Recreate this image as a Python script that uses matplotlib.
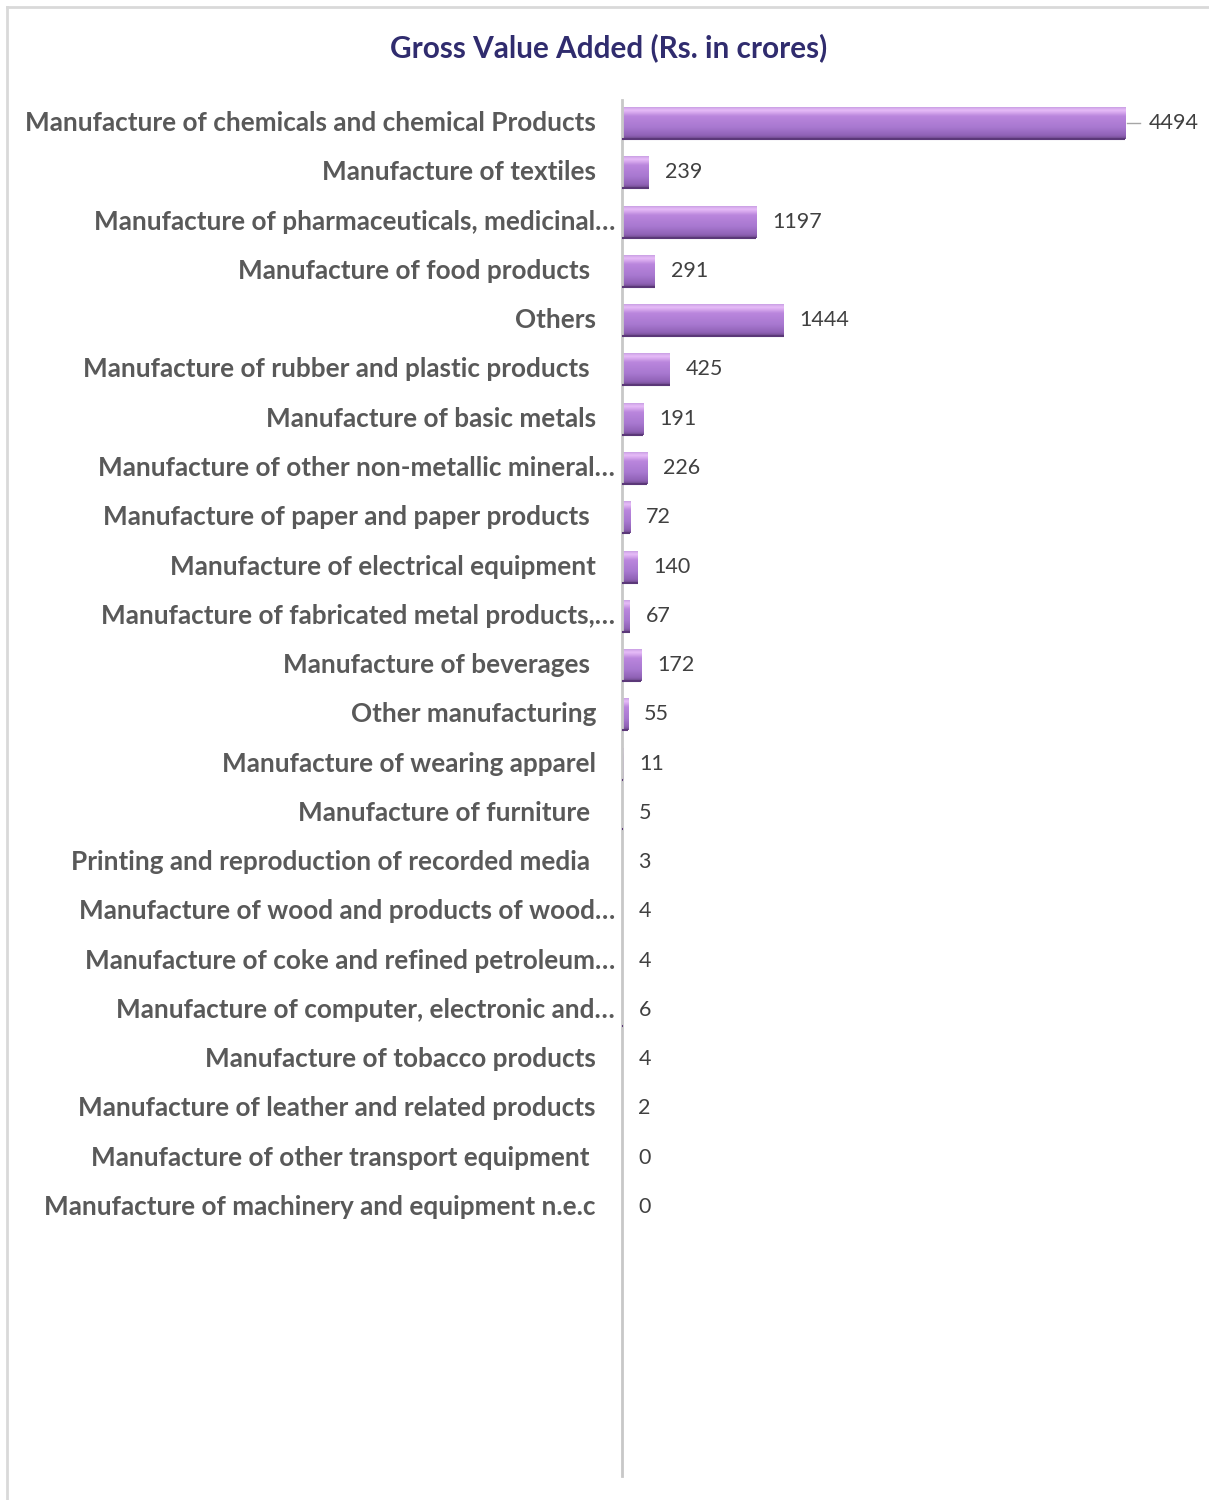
import numpy as np
import matplotlib
matplotlib.use("Agg")
from matplotlib import pyplot as plt
from matplotlib import transforms
from matplotlib.colors import LinearSegmentedColormap
from matplotlib.lines import Line2D


# ------------- Data ---------------

industries = [
	"Manufacture of chemicals and chemical Products",
	"Manufacture of textiles",
	"Manufacture of pharmaceuticals, medicinal…",
	"Manufacture of food products ",
	"Others",
	"Manufacture of rubber and plastic products ",
	"Manufacture of basic metals",
	"Manufacture of other non-metallic mineral…",
	"Manufacture of paper and paper products ",
	"Manufacture of electrical equipment",
	"Manufacture of fabricated metal products,…",
	"Manufacture of beverages ",
	"Other manufacturing",
	"Manufacture of wearing apparel",
	"Manufacture of furniture ",
	"Printing and reproduction of recorded media ",
	"Manufacture of wood and products of wood…",
	"Manufacture of coke and refined petroleum…",
	"Manufacture of computer, electronic and…",
	"Manufacture of tobacco products",
	"Manufacture of leather and related products",
	"Manufacture of other transport equipment ",
	"Manufacture of machinery and equipment n.e.c",
]
gva = [4494, 239, 1197, 291, 1444, 425, 191, 226, 72, 140, 67, 172,
	   55, 11, 5, 3, 4, 4, 6, 4, 2, 0, 0]

title = "Gross Value Added (Rs. in crores)"


# ------------- Display ---------------

def bevel_bar(ax, x, y, width, height, cmap):
	bars = ax.barh(y, width, height=height, color="#A878D0", linewidth=0)
	bar = bars[0]
	if width <= 0:
		return
	grad = np.linspace(0, 1, 64).reshape(-1, 1)
	img = ax.imshow(grad, cmap=cmap, aspect="auto", interpolation="bicubic",
					extent=(x, x + width, y + height / 2, y - height / 2),
					zorder=bar.get_zorder() + 0.1)
	img.set_clip_path(bar)
	# dark lower edge of the bevel
	ax.plot([x, x + width], [y + height / 2, y + height / 2],
			color="#5B3878", lw=1.5, zorder=3, solid_capstyle="butt")


def plot_gva(labels, values):
	fig = plt.figure(figsize=(12.09, 15), dpi=100)
	ax = fig.add_axes([622 / 1209, 24 / 1500, 578 / 1209, 1376 / 1500])

	cmap = LinearSegmentedColormap.from_list("bevel", [
		(0.0, "#C198DF"), (0.12, "#E8BDF8"), (0.3, "#BA86DD"),
		(0.65, "#A878D0"), (0.9, "#9062B6"), (1.0, "#6E4A8C")])

	ypos = list(range(len(values)))
	for y, v in zip(ypos, values):
		bevel_bar(ax, 0, y, v, 0.65, cmap)

	ax.set_xlim(0, 5160)
	ax.set_ylim(27.46, -0.47)

	# value labels next to each bar; the longest one gets a leader line
	top = max(values)
	for y, v in zip(ypos, values):
		off = 16.5 if v == top else 11.5
		ax.annotate(str(v), xy=(v, y), xytext=(off, 0), textcoords="offset points",
					ha="left", va="center", fontsize=15.5, color="#404040",
					family="Lato")
	ax.add_line(Line2D([top + 15, top + 130], [0, 0], color="#A6A6A6", lw=1))

	# category labels, right aligned against the axis
	for y, lab in zip(ypos, labels):
		gap = -7 if lab.endswith("…") else -26
		trans = transforms.offset_copy(ax.get_yaxis_transform(), fig=fig,
									   x=gap, units="dots")
		ax.text(0, y, lab, transform=trans, ha="right", va="center",
				fontsize=18.8, fontweight="bold", color="#595959", family="Lato")

	ax.set_xticks([])
	ax.set_yticks([])
	for side in ["top", "right", "bottom"]:
		ax.spines[side].set_visible(False)
	ax.spines["left"].set_color("#C8C8C8")
	ax.spines["left"].set_linewidth(2)
	ax.patch.set_alpha(0)

	fig.text(609 / 1209, 1 - 48 / 1500, title, ha="center", va="center",
			 fontsize=21.4, fontweight="bold", color="#302C6E", family="Lato")

	# chart frame
	fig.add_artist(Line2D([7 / 1209, 1], [1 - 7 / 1500, 1 - 7 / 1500],
						  color="#D9D9D9", lw=2))
	fig.add_artist(Line2D([7 / 1209, 7 / 1209], [0, 1 - 7 / 1500],
						  color="#D9D9D9", lw=2))

	fig.savefig("out.png", dpi=100)


plot_gva(industries, gva)
